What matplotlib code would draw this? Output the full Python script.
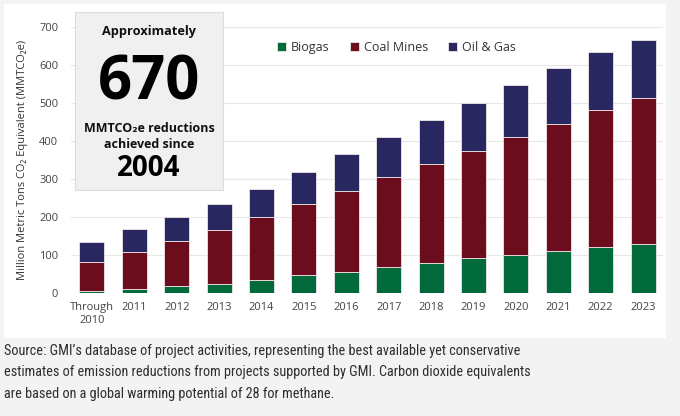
import matplotlib
matplotlib.use("Agg")
import matplotlib.pyplot as plt
import numpy as np
from matplotlib.patches import Rectangle

plt.rcParams["font.family"] = ["Open Sans", "DejaVu Sans"]

years = ["Through\n2010", "2011", "2012", "2013", "2014", "2015", "2016",
         "2017", "2018", "2019", "2020", "2021", "2022", "2023"]
# cumulative reductions (MMTCO2e)
biogas = [7, 12, 18, 24, 35, 47, 57, 69, 80, 92, 101, 111, 121, 129]
coal_mines = [75, 96, 118, 141, 165, 187, 212, 235, 259, 282, 309, 334, 361, 384]
oil_gas = [53, 60, 64, 69, 73, 85, 96, 106, 115, 126, 136, 146, 152, 153]

series = ["Biogas", "Coal Mines", "Oil & Gas"]
colors = ["#006a3a", "#6b0d1c", "#29275f"]

fig = plt.figure(figsize=(6.8, 4.16), dpi=100)
fig.patch.set_facecolor("#f3f3f3")
# white chart panel, behind the axes
fig.patches.append(Rectangle((4 / 680, 1 - 338 / 416), 662 / 680, 334 / 416,
                             transform=fig.transFigure, facecolor="white",
                             edgecolor="none", zorder=-2))

ax = fig.add_axes([0.104, 0.295, 0.871, 0.641])
ax.set_facecolor("white")

x = np.arange(len(years))
bottom = np.zeros(len(years))
for name, vals, c in zip(series, [biogas, coal_mines, oil_gas], colors):
    ax.bar(x, vals, width=0.59, bottom=bottom, color=c, label=name,
           edgecolor="#f0e6e8", linewidth=0.6, zorder=3)
    bottom += np.array(vals)

ax.set_xlim(-0.5, 13.47)
ax.set_ylim(0, 700)
ax.set_yticks(range(0, 701, 100))
ax.set_xticks(x)
ax.set_xticklabels(years, fontsize=8, color="#444444", linespacing=1.35)
ax.tick_params(axis="y", labelsize=8, labelcolor="#444444", length=0, pad=9)
ax.tick_params(axis="x", length=0, pad=6)
ax.grid(axis="y", color="#e6e6e6", linewidth=0.8, zorder=0)
for s in ax.spines.values():
    s.set_visible(False)
ax.set_ylabel("Million Metric Tons CO₂ Equivalent (MMTCO₂e)", fontsize=8,
              color="#333333", labelpad=8)

leg = ax.legend(loc="upper center", bbox_to_anchor=(0.55, 0.99), ncol=3,
                frameon=False, fontsize=9, handlelength=0.7, handleheight=0.7,
                handletextpad=0.4, columnspacing=1.6)
for t in leg.get_texts():
    t.set_color("#333333")

# callout box on top of the axes
box_ax = fig.add_axes([75 / 680, 1 - 190 / 416, 148 / 680, 178 / 416])
box_ax.set_facecolor("#f0f0f0")
box_ax.set_xticks([])
box_ax.set_yticks([])
for s in box_ax.spines.values():
    s.set_color("#dddddd")
    s.set_linewidth(0.8)

cx = 149 / 680
fig.text(cx, 1 - 32 / 416, "Approximately", ha="center", va="center",
         fontsize=9.2, fontweight="bold", color="#111111")
fig.text(cx, 1 - 84 / 416, "670", ha="center", va="center",
         fontsize=43, fontweight="bold", color="#000000")
fig.text(cx, 1 - 129 / 416, "MMTCO₂e reductions", ha="center", va="center",
         fontsize=9, fontweight="bold", color="#111111")
fig.text(cx, 1 - 145 / 416, "achieved since", ha="center", va="center",
         fontsize=9, fontweight="bold", color="#111111")
fig.text(cx, 1 - 168 / 416, "2004", ha="center", va="center",
         fontsize=20, fontweight="bold", color="#000000")

source = ("Source: GMI\u2019s database of project activities, representing the best available yet conservative\n"
          "estimates of emission reductions from projects supported by GMI. Carbon dioxide equivalents\n"
          "are based on a global warming potential of 28 for methane.")
fig.text(4 / 680, 1 - 344 / 416, source, ha="left", va="top", fontsize=10.3,
         color="#2e2e2e", linespacing=1.68,
         family=["Roboto Condensed", "Barlow Condensed", "Archivo Narrow", "DejaVu Sans"])

fig.savefig("out.png", dpi=100, facecolor=fig.get_facecolor())
